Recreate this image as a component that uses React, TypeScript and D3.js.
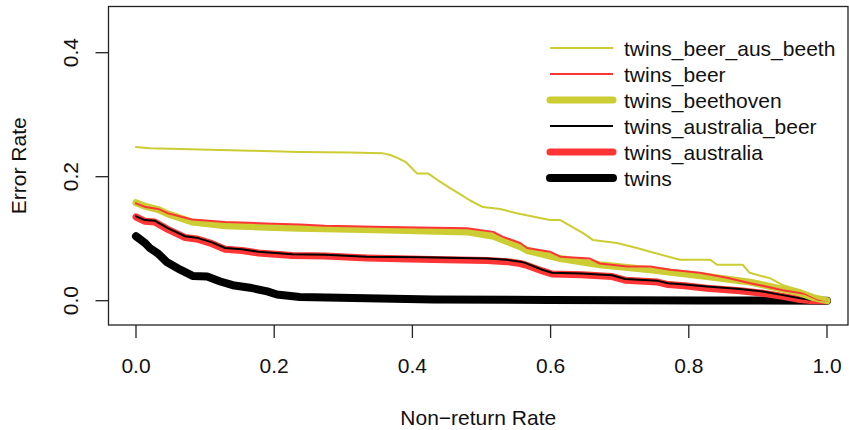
import React from "react";
import { scaleLinear, line, curveLinear } from "d3";

type Pt = [number, number];

// [non-return rate, error rate]
const twinsBeerAusBeeth: Pt[] = [
  [0, 0.248], [0.02, 0.246], [0.093, 0.244], [0.165, 0.242], [0.237, 0.24],
  [0.31, 0.239], [0.356, 0.238], [0.368, 0.235], [0.379, 0.23], [0.39, 0.224],
  [0.407, 0.205], [0.423, 0.205], [0.436, 0.195], [0.454, 0.182], [0.466, 0.174],
  [0.483, 0.162], [0.502, 0.151], [0.527, 0.148], [0.551, 0.141], [0.599, 0.13],
  [0.614, 0.13], [0.647, 0.109], [0.661, 0.098], [0.696, 0.093], [0.725, 0.085],
  [0.744, 0.079], [0.787, 0.066], [0.831, 0.066], [0.841, 0.058], [0.878, 0.058],
  [0.888, 0.045], [0.918, 0.036], [0.936, 0.025], [0.961, 0.017], [0.986, 0.004],
  [1, 0],
];

const twinsBeer: Pt[] = [
  [0, 0.157], [0.014, 0.151], [0.032, 0.148], [0.046, 0.141], [0.081, 0.131],
  [0.129, 0.127], [0.177, 0.125], [0.237, 0.123], [0.273, 0.121], [0.363, 0.119],
  [0.479, 0.117], [0.517, 0.111], [0.531, 0.103], [0.556, 0.093], [0.566, 0.085],
  [0.599, 0.079], [0.614, 0.071], [0.657, 0.068], [0.671, 0.06], [0.711, 0.055],
  [0.744, 0.055], [0.773, 0.05], [0.816, 0.045], [0.855, 0.037], [0.889, 0.028],
  [0.903, 0.025], [0.936, 0.017], [0.968, 0.011], [0.986, 0.002], [1, 0],
];

const twinsBeethoven: Pt[] = [
  [0, 0.158], [0.014, 0.152], [0.032, 0.147], [0.046, 0.14], [0.081, 0.127],
  [0.129, 0.121], [0.177, 0.119], [0.237, 0.117], [0.363, 0.114], [0.479, 0.111],
  [0.517, 0.104], [0.556, 0.087], [0.566, 0.081], [0.614, 0.068], [0.671, 0.058],
  [0.744, 0.05], [0.826, 0.039], [0.889, 0.03], [0.93, 0.02], [0.96, 0.013],
  [0.98, 0.005], [1, 0],
];

const twinsAustraliaBeer: Pt[] = [
  [0, 0.136], [0.013, 0.13], [0.027, 0.129], [0.046, 0.117], [0.071, 0.104],
  [0.09, 0.101], [0.11, 0.094], [0.129, 0.085], [0.153, 0.083], [0.177, 0.079],
  [0.226, 0.075], [0.274, 0.074], [0.334, 0.071], [0.411, 0.07], [0.508, 0.068],
  [0.537, 0.066], [0.556, 0.063], [0.563, 0.061], [0.588, 0.05], [0.602, 0.045],
  [0.645, 0.044], [0.689, 0.041], [0.708, 0.035], [0.755, 0.032], [0.77, 0.028],
  [0.794, 0.026], [0.826, 0.023], [0.874, 0.019], [0.907, 0.015], [0.936, 0.009],
  [0.961, 0.004], [0.98, 0.001], [1, 0],
];

const twinsAustralia: Pt[] = [
  [0, 0.135], [0.013, 0.128], [0.027, 0.127], [0.046, 0.115], [0.071, 0.102],
  [0.09, 0.099], [0.11, 0.092], [0.129, 0.083], [0.153, 0.081], [0.177, 0.077],
  [0.226, 0.073], [0.274, 0.072], [0.334, 0.069], [0.411, 0.067], [0.508, 0.065],
  [0.537, 0.063], [0.556, 0.06], [0.563, 0.058], [0.588, 0.048], [0.602, 0.043],
  [0.645, 0.042], [0.689, 0.039], [0.708, 0.033], [0.755, 0.03], [0.77, 0.026],
  [0.794, 0.024], [0.826, 0.02], [0.874, 0.016], [0.907, 0.012], [0.936, 0.007],
  [0.961, 0.002], [0.98, 0], [1, 0],
];

const twins: Pt[] = [
  [0, 0.104], [0.013, 0.093], [0.02, 0.085], [0.032, 0.076], [0.045, 0.062],
  [0.064, 0.05], [0.082, 0.04], [0.103, 0.039], [0.122, 0.031], [0.14, 0.025],
  [0.165, 0.021], [0.19, 0.015], [0.204, 0.01], [0.237, 0.006], [0.334, 0.004],
  [0.43, 0.002], [0.599, 0.001], [0.816, 0.0005], [1, 0],
];

const xTicks = [0, 0.2, 0.4, 0.6, 0.8, 1.0];
const yTicks = [0, 0.2, 0.4];

const OLIVE = "#cccc33";
const RED = "#ff3535";

// legend order (top to bottom); drawn in reverse
const series = [
  { name: "twins_beer_aus_beeth", data: twinsBeerAusBeeth, color: OLIVE, w: 2 },
  { name: "twins_beer", data: twinsBeer, color: RED, w: 2 },
  { name: "twins_beethoven", data: twinsBeethoven, color: OLIVE, w: 7 },
  { name: "twins_australia_beer", data: twinsAustraliaBeer, color: "#000", w: 2 },
  { name: "twins_australia", data: twinsAustralia, color: RED, w: 7 },
  { name: "twins", data: twins, color: "#000", w: 8 },
];

const W = 849;
const H = 430;
const box = { left: 108.5, right: 848, top: 6.5, bottom: 325 };
const font = "'Liberation Sans', Arial, Helvetica, sans-serif";

export default function App() {
  const x = scaleLinear().domain([0, 1]).range([136, 827]);
  const y = scaleLinear().domain([0, 0.4]).range([300.7, 52.7]);
  const path = line<Pt>()
    .x((d) => x(d[0]))
    .y((d) => y(d[1]))
    .curve(curveLinear);

  return (
    <svg
      width={W}
      height={H}
      style={{ position: "absolute", left: 0, top: 0, background: "#fff" }}
      fontFamily={font}
    >
      {[...series].reverse().map((s) => (
        <path
          key={s.name}
          d={path(s.data) || ""}
          fill="none"
          stroke={s.color}
          strokeWidth={s.w}
          strokeLinejoin="round"
          strokeLinecap="round"
        />
      ))}

      <rect
        x={box.left}
        y={box.top}
        width={box.right - box.left}
        height={box.bottom - box.top}
        fill="none"
        stroke="#222"
        strokeWidth={1.3}
      />

      {xTicks.map((t) => (
        <g key={"x" + t}>
          <line x1={x(t)} x2={x(t)} y1={box.bottom} y2={box.bottom + 13} stroke="#222" strokeWidth={1.3} />
          <text x={x(t)} y={373} fontSize={21} textAnchor="middle" fill="#111">
            {t.toFixed(1)}
          </text>
        </g>
      ))}

      {yTicks.map((t) => (
        <g key={"y" + t}>
          <line x1={box.left - 13} x2={box.left} y1={y(t)} y2={y(t)} stroke="#222" strokeWidth={1.3} />
          <text
            transform={`translate(78,${y(t)}) rotate(-90)`}
            fontSize={21}
            textAnchor="middle"
            fill="#111"
          >
            {t.toFixed(1)}
          </text>
        </g>
      ))}

      <text x={(box.left + box.right) / 2} y={425} fontSize={21} textAnchor="middle" fill="#111">
        Non−return Rate
      </text>
      <text
        transform={`translate(26,${(box.top + box.bottom) / 2}) rotate(-90)`}
        fontSize={21}
        textAnchor="middle"
        fill="#111"
      >
        Error Rate
      </text>

      {series.map((s, i) => {
        const ly = 48 + i * 26;
        return (
          <g key={"lg" + s.name}>
            <line
              x1={550}
              x2={613}
              y1={ly}
              y2={ly}
              stroke={s.color}
              strokeWidth={s.w}
              strokeLinecap={s.w > 3 ? "round" : "butt"}
            />
            <text x={624} y={ly + 7.5} fontSize={21} fill="#111">
              {s.name}
            </text>
          </g>
        );
      })}
    </svg>
  );
}
